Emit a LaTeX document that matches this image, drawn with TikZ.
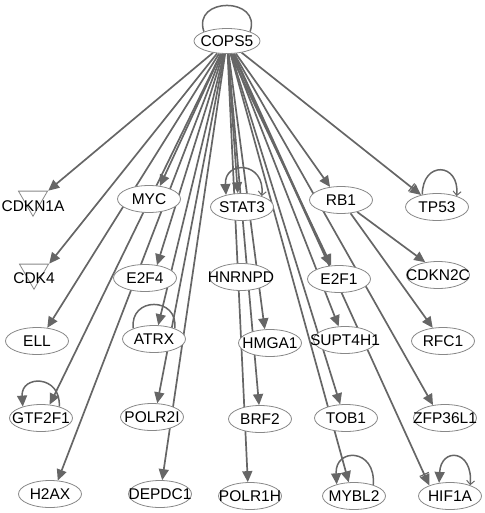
\documentclass[tikz,border=0pt]{standalone}
\usepackage{fontspec}
\setmainfont{Liberation Sans}
\usetikzlibrary{arrows.meta,shapes.geometric,backgrounds}
\definecolor{edgec}{HTML}{666666}
\definecolor{nodec}{HTML}{888888}
\tikzset{
  gene/.style={ellipse,draw=nodec,line width=0.8pt,fill=white,minimum width=63pt,minimum height=27pt,inner sep=0pt},
  kinase/.style={regular polygon,regular polygon sides=3,shape border rotate=180,draw=nodec,line width=0.8pt,fill=white,minimum size=33.5pt,inner sep=0pt},
  gtext/.style={font=\fontsize{15.5}{16}\selectfont,inner sep=0pt},
  edge/.style={draw=edgec,line width=1.7pt,-{Triangle[length=11pt,width=10pt]}},
  baredge/.style={draw=edgec,line width=1.7pt,-{Bar[width=10pt,line width=1.2pt,sep=0.5pt]Triangle[length=11pt,width=10pt]}},
  selfloop/.style={draw=edgec,line width=1.5pt},
  openend/.style={-{Straight Barb[length=4pt,width=8pt,line width=1pt]}},
  bothends/.style={{Triangle[length=11pt,width=10pt]}-{Straight Barb[length=4pt,width=8pt,line width=1pt]}},
  filledend/.style={-{Triangle[length=11pt,width=10pt]}}
}
\newcommand\genenode[3]{\node[gene] (#1) at (#2) {}; \node[gtext] (#1-t) at (#1) {#3};}
\begin{document}
\begin{tikzpicture}[x=1pt,y=-1pt]
\useasboundingbox (0,0) rectangle (484,513);
% nodes
\node[gene,minimum width=66pt,minimum height=25pt] (COPS5) at (227,41) {};
\node[gtext] (COPS5-t) at (COPS5) {COPS5};
\node[kinase] (CDKN1A) at (33,199.5) {};
\node[gtext] (CDKN1A-t) at (33,206) {CDKN1A};
\genenode{MYC}{149,199}{MYC}
\genenode{STAT3}{242,207}{STAT3}
\genenode{RB1}{341,200}{RB1}
\genenode{TP53}{437,207}{TP53}
\node[kinase] (CDK4) at (34,272.5) {};
\node[gtext] (CDK4-t) at (34,278) {CDK4};
\genenode{E2F4}{145,278}{E2F4}
\genenode{HNRNPD}{241,277}{HNRNPD}
\genenode{E2F1}{339,279}{E2F1}
\genenode{CDKN2C}{438,275}{CDKN2C}
\genenode{ELL}{37,341}{ELL}
\genenode{ATRX}{154,339}{ATRX}
\genenode{HMGA1}{270,343}{HMGA1}
\genenode{SUPT4H1}{345,340}{SUPT4H1}
\genenode{RFC1}{443,341}{RFC1}
\genenode{GTF2F1}{41,418}{GTF2F1}
\genenode{POLR2I}{152,417}{POLR2I}
\genenode{BRF2}{260,419}{BRF2}
\genenode{TOB1}{346,418}{TOB1}
\genenode{ZFP36L1}{445,418}{ZFP36L1}
\genenode{H2AX}{50,494}{H2AX}
\genenode{DEPDC1}{160,494}{DEPDC1}
\genenode{POLR1H}{250,496}{POLR1H}
\genenode{MYBL2}{354,496}{MYBL2}
\genenode{HIF1A}{450,496}{HIF1A}
\begin{scope}[on background layer]
% edges from COPS5
\draw[edge] (COPS5) -- (CDKN1A.30);
\draw[edge] (COPS5) -- (CDK4.30);
\draw[edge] (COPS5) -- (ELL.52);
\draw[edge] (COPS5) -- (GTF2F1.57);
\draw[edge] (COPS5) -- (H2AX.60);
\draw[edge] (COPS5) -- (MYC.50);
\draw[edge] (COPS5) -- (E2F4.47);
\draw[edge] (COPS5) -- (ATRX.73);
\draw[edge] (COPS5) -- (POLR2I.69);
\draw[edge] (COPS5) -- (DEPDC1.81);
\draw[edge] (COPS5) -- (STAT3.107);
\draw[edge] (COPS5) -- (HMGA1.111);
\draw[edge] (COPS5) -- (BRF2.94);
\draw[edge] (COPS5) -- (POLR1H.99);
\draw[edge] (COPS5) -- (RB1.130);
\draw[baredge] (COPS5) -- (TP53.143);
\draw[edge] (COPS5.-62) -- (E2F1.124);
\draw[edge] (COPS5.-75) -- (E2F1.120);
\draw[edge] (COPS5) -- (SUPT4H1.115);
\draw[edge] (COPS5) -- (TOB1.113);
\draw[edge] (COPS5) -- (MYBL2.111);
\draw[edge] (COPS5) -- (ZFP36L1.133);
\draw[baredge] (COPS5) -- (HIF1A.153);
% edges from RB1
\draw[edge] (RB1) -- (CDKN2C.135);
\draw[edge] (RB1) -- (RFC1.128);
% self loops
\draw[selfloop] (COPS5.158) .. controls +(-12,-35) and +(12,-35) .. (COPS5.22);
\draw[selfloop,bothends] (STAT3.143) .. controls +(-2,-35) and +(4,-35) .. (STAT3.29);
\draw[selfloop,openend] (TP53.140) .. controls +(0,-34) and +(3,-34) .. (TP53.29);
\draw[selfloop] (ATRX.153) .. controls +(-4,-32) and +(4,-32) .. (ATRX.27);
\draw[selfloop,filledend] (GTF2F1.32) .. controls +(2,-32) and +(-2,-32) .. (GTF2F1.148);
\draw[selfloop,filledend] (MYBL2.30) .. controls +(3,-37) and +(-2,-37) .. (MYBL2.146);
\draw[selfloop,bothends] (HIF1A.130) .. controls +(2,-36) and +(3,-36) .. (HIF1A.28);
\end{scope}
\end{tikzpicture}
\end{document}
